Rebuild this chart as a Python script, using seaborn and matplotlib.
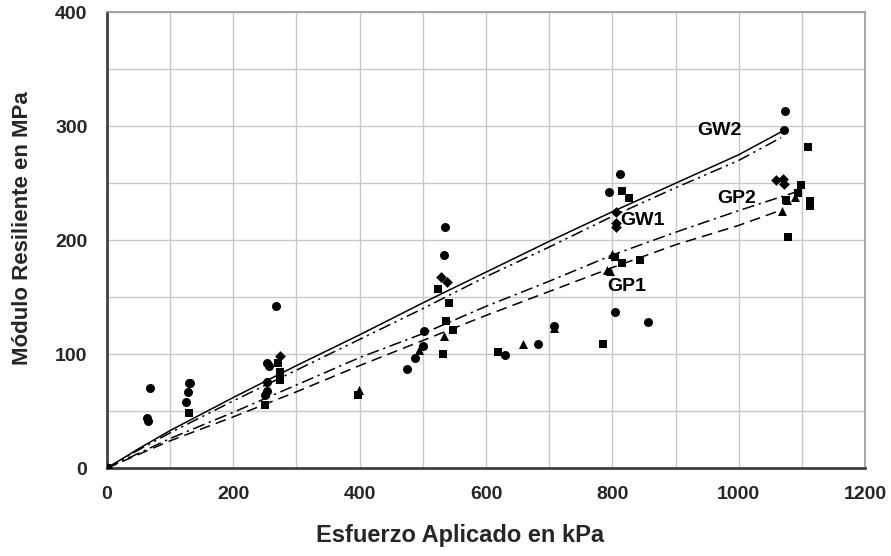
import matplotlib
matplotlib.use("Agg")
import matplotlib.pyplot as plt
from matplotlib.ticker import MultipleLocator
import pandas as pd
import seaborn as sns

# Measured resilient modulus (MPa) against applied stress (kPa), one list pair per marker
circ_x = [0, 63, 65, 68, 125, 129, 130, 132, 250, 253, 253, 253, 257, 267, 475, 487, 500, 502,
          533, 535, 630, 683, 707, 795, 804, 812, 857, 1071, 1073]
circ_y = [0, 44, 41, 70, 58, 67, 75, 75, 64, 68, 76, 92, 90, 142, 87, 97, 107, 120,
          187, 212, 99, 109, 125, 242, 137, 258, 128, 297, 313]

diam_x = [0, 274, 528, 538, 805, 806, 805, 1059, 1070, 1071]
diam_y = [0, 98, 168, 163, 225, 215, 212, 253, 254, 249]

sq_x = [0, 130, 250, 270, 274, 274, 398, 524, 542, 536, 548, 532, 619, 785, 804, 815, 826,
        815, 843, 1110, 1099, 1093, 1074, 1112, 1113, 1078]
sq_y = [0, 48, 55, 92, 84, 77, 64, 157, 145, 129, 121, 100, 102, 109, 185, 243, 237,
        180, 183, 282, 248, 241, 235, 234, 230, 203]

tri_x = [0, 399, 494, 533, 659, 707, 800, 791, 796, 1089, 1076, 1069]
tri_y = [0, 69, 104, 116, 109, 123, 188, 174, 173, 238, 235, 226]

# Model curves
gw2_x = [0, 50, 100, 200, 300, 400, 500, 600, 700, 800, 900, 1000, 1067]
gw2_y = [0, 17, 33, 62, 90, 117, 145, 172, 199, 225, 250, 275, 295]
gw1_x = [0, 50, 100, 200, 300, 400, 500, 600, 700, 800, 900, 1000, 1067]
gw1_y = [0, 16, 31, 59, 86, 113, 140, 168, 194, 221, 246, 270, 290]
gp2_x = [0, 50, 100, 200, 300, 400, 500, 600, 700, 800, 900, 1000, 1100]
gp2_y = [0, 13, 26, 49, 73, 97, 118, 142, 164, 187, 207, 226, 244]
gp1_x = [0, 50, 100, 200, 300, 400, 500, 600, 700, 800, 900, 1000, 1060]
gp1_y = [0, 12, 24, 45, 67, 90, 112, 134, 155, 176, 196, 213, 225]

curve_names = ["GW2", "GW1", "GP2", "GP1"]
label_x = [970, 848, 997, 823]
label_y = [296, 217, 237, 159]

x_ticks = [0, 200, 400, 600, 800, 1000, 1200]
y_ticks = [0, 100, 200, 300, 400]

sns.set_theme(style="whitegrid")
plt.rcParams["font.family"] = ["Liberation Sans", "DejaVu Sans"]
plt.rcParams["font.weight"] = "bold"

fig = plt.figure(figsize=(8.91, 5.56), dpi=100)
ax = fig.add_axes([0.120, 0.158, 0.851, 0.820])

pts = pd.concat([
    pd.DataFrame({"x": circ_x, "y": circ_y, "m": "circ"}),
    pd.DataFrame({"x": diam_x, "y": diam_y, "m": "diam"}),
    pd.DataFrame({"x": sq_x, "y": sq_y, "m": "sq"}),
    pd.DataFrame({"x": tri_x, "y": tri_y, "m": "tri"}),
])
curves = pd.concat([
    pd.DataFrame({"x": gw2_x, "y": gw2_y, "c": "GW2"}),
    pd.DataFrame({"x": gw1_x, "y": gw1_y, "c": "GW1"}),
    pd.DataFrame({"x": gp2_x, "y": gp2_y, "c": "GP2"}),
    pd.DataFrame({"x": gp1_x, "y": gp1_y, "c": "GP1"}),
])

styles = {"GW2": "-", "GW1": (0, (8, 3, 1.5, 3, 1.5, 3)),
          "GP2": (0, (8, 3, 1.5, 3)), "GP1": (0, (7, 4))}
for name in curve_names:
    sub = curves[curves["c"] == name]
    sns.lineplot(data=sub, x="x", y="y", ax=ax, color="black", lw=1.1,
                 linestyle=styles[name], sort=False, estimator=None, legend=False)

marker_map = {"circ": "o", "diam": "D", "sq": "s", "tri": "^"}
size_map = {"circ": 42, "diam": 30, "sq": 40, "tri": 42}
for key, mk in marker_map.items():
    sub = pts[pts["m"] == key]
    sns.scatterplot(data=sub, x="x", y="y", ax=ax, marker=mk, color="black",
                    s=size_map[key], edgecolor="black", linewidth=0, legend=False, zorder=3)

for name, lx, ly in zip(curve_names, label_x, label_y):
    ax.text(lx, ly, name, ha="center", va="center", fontsize=14, fontweight="bold",
            color="black")

ax.set_xlim(0, 1200)
ax.set_ylim(0, 400)
ax.set_xticks(x_ticks)
ax.set_yticks(y_ticks)
ax.set_xticklabels([str(v) for v in x_ticks], fontsize=14, fontweight="bold")
ax.set_yticklabels([str(v) for v in y_ticks], fontsize=14, fontweight="bold")
ax.xaxis.set_minor_locator(MultipleLocator(100))
ax.yaxis.set_minor_locator(MultipleLocator(50))
ax.grid(which="both", color="#c8c8c8", lw=1)
ax.tick_params(which="both", length=0)
ax.tick_params(axis="x", pad=13)
ax.tick_params(axis="y", pad=14)

ax.set_xlabel("Esfuerzo Aplicado en kPa", fontsize=17, fontweight="bold")
ax.set_ylabel("Módulo Resiliente en MPa", fontsize=16, fontweight="bold")
ax.xaxis.set_label_coords(0.466, -0.122)
ax.yaxis.set_label_coords(-0.098, 0.526)

for side in ["left", "bottom"]:
    ax.spines[side].set_color("#404040")
    ax.spines[side].set_linewidth(2)
for side in ["top", "right"]:
    ax.spines[side].set_color("#9a9a9a")
    ax.spines[side].set_linewidth(1.2)
ax.set_facecolor("white")
fig.patch.set_facecolor("white")

fig.savefig("out.png", dpi=100)
